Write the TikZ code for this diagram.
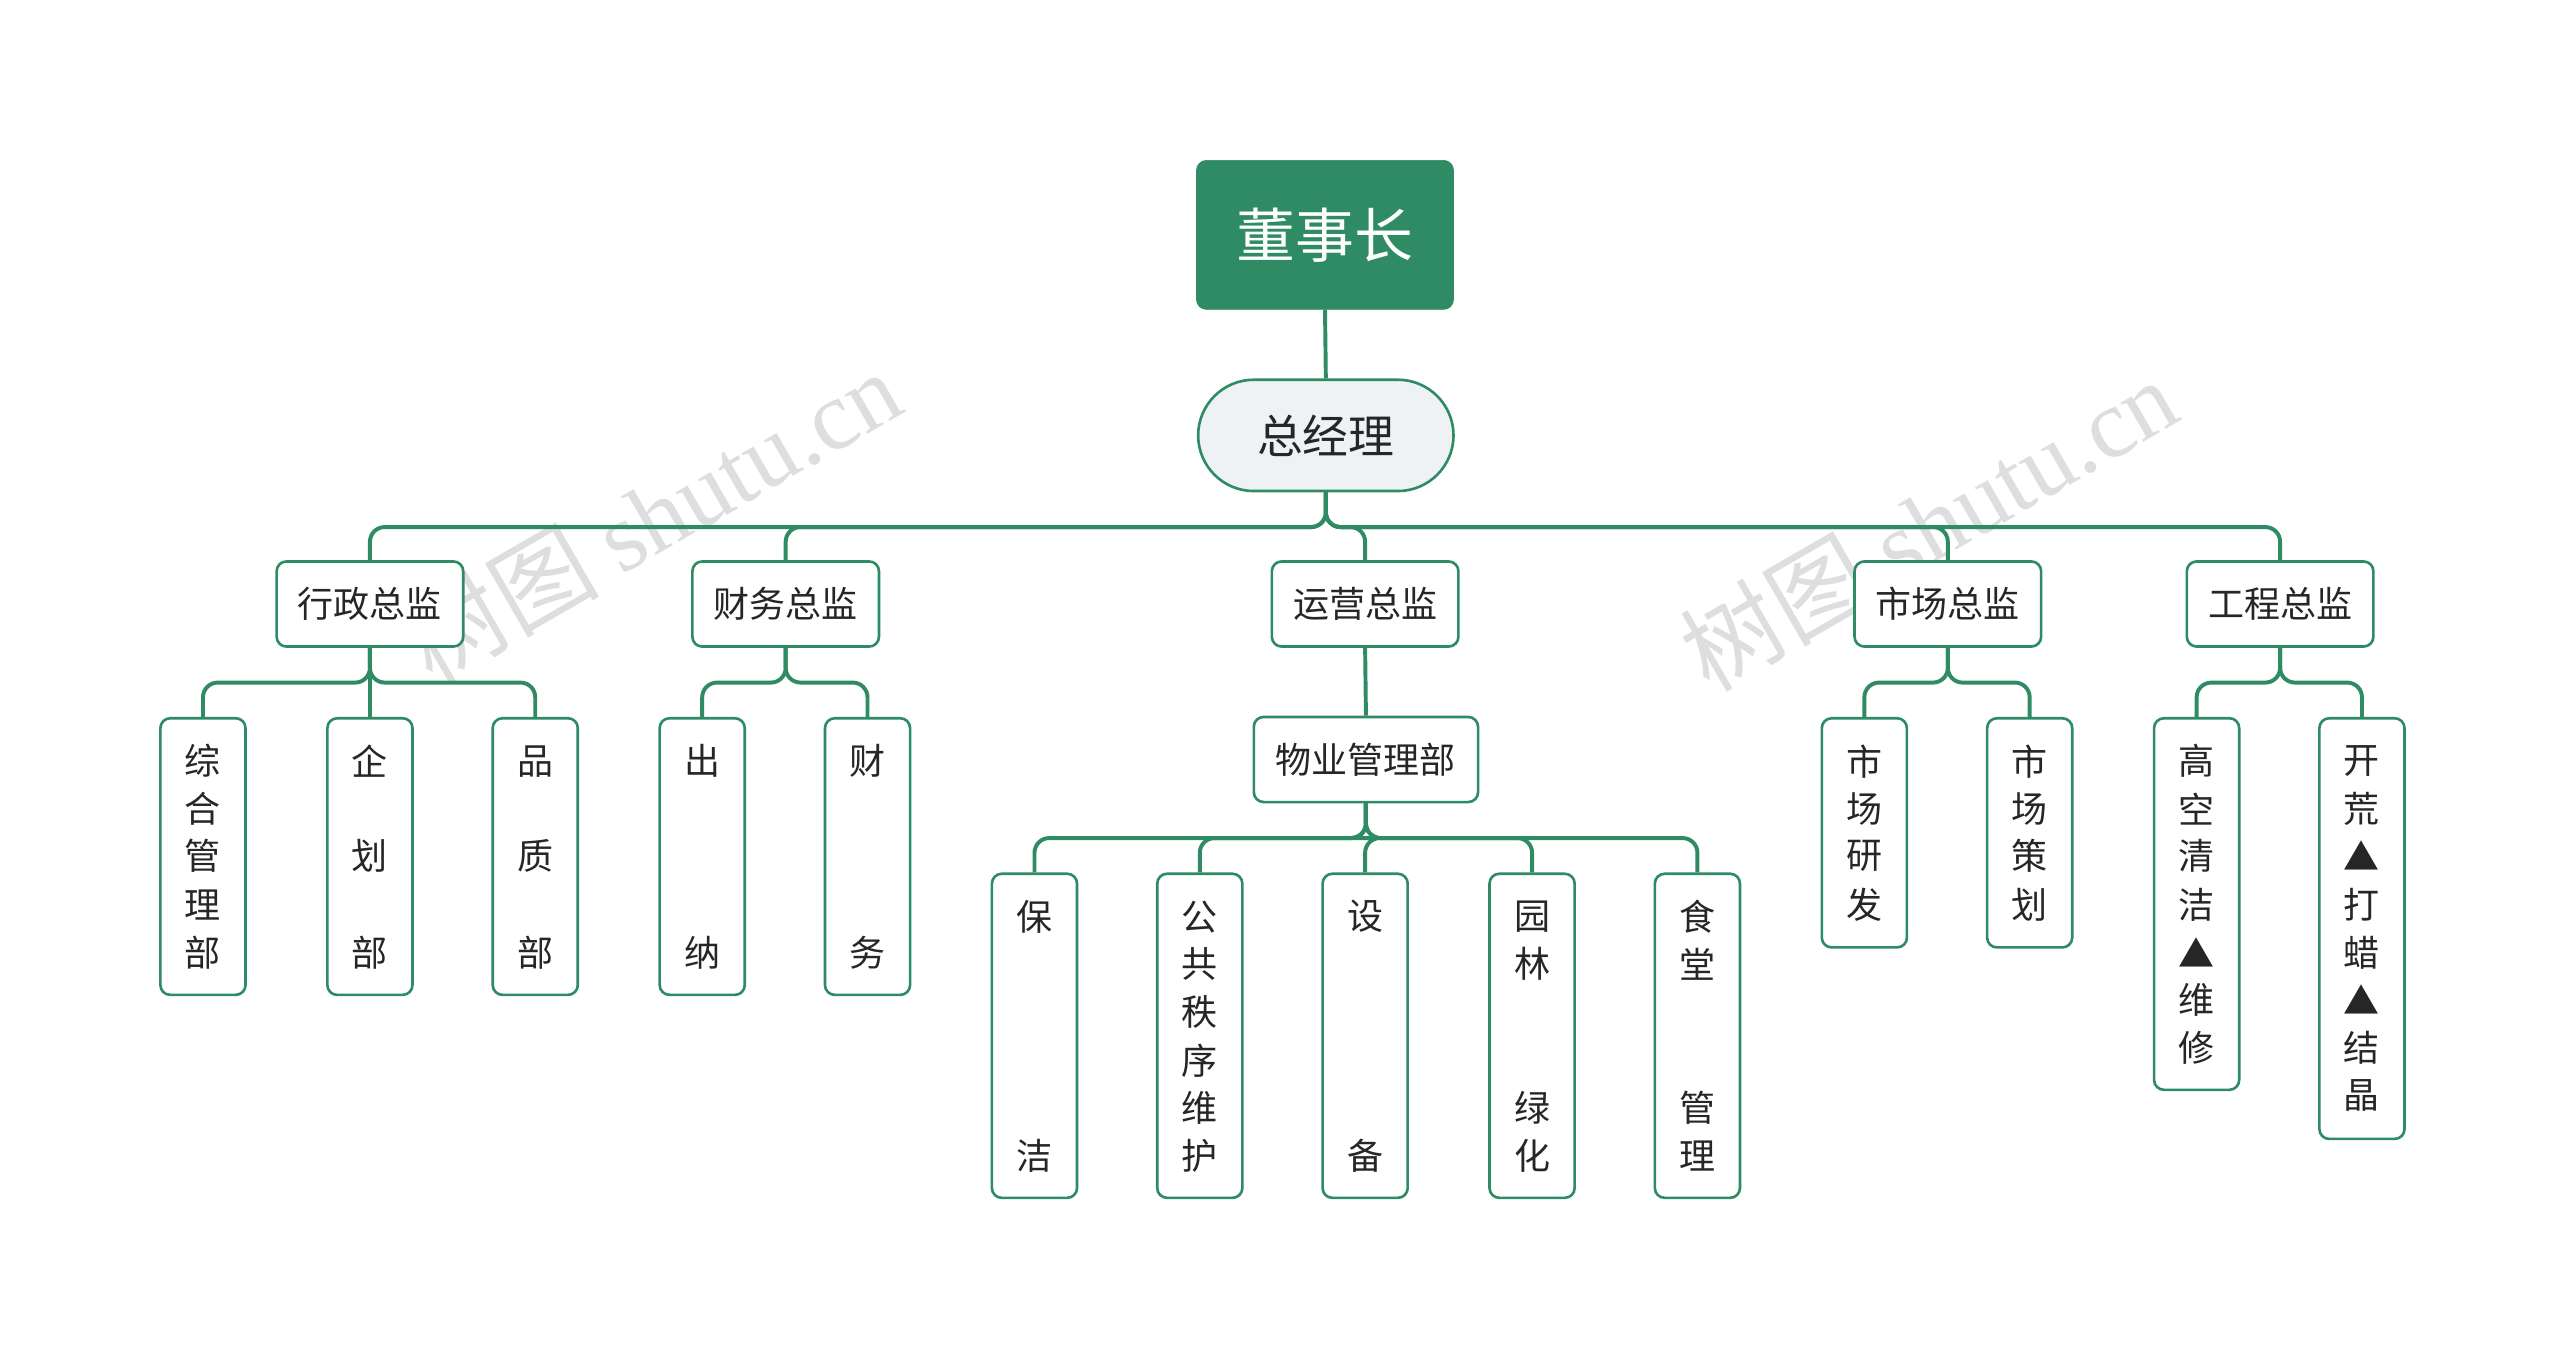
\documentclass[tikz,border=0pt]{standalone}
\usepackage{fontspec}
\setmainfont{Noto Sans CJK SC}
\newfontfamily\wmser{Liberation Serif}
\definecolor{gr}{HTML}{2E8B64}
\definecolor{gmfill}{HTML}{EEF2F5}
\tikzset{
 conn/.style={draw=gr,line width=2.4pt,rounded corners=9pt},
 vb/.style={draw=gr,line width=1.6pt,fill=white,rounded corners=6pt,minimum width=52pt,anchor=north,inner sep=0pt},
 hb/.style={draw=gr,line width=1.6pt,fill=white,rounded corners=6pt,minimum height=52pt,inner sep=0pt,font=\fontsize{22}{24}\selectfont,text=black!85},
 ct/.style={font=\fontsize{22}{24}\selectfont,text=black!85,inner sep=0pt},
 wm/.style={font=\fontsize{60}{64}\selectfont,text=black!13,rotate=30}
}
\newcommand\vbx[5]{\node[vb,minimum height={(#4-#3)*1pt}] (#1) at (#2,#3) {};
 \foreach \yy/\cc in {#5} {\node[ct] at (#2,\yy) {\cc};}}
\begin{document}
\begin{tikzpicture}[x=1pt,y=-1pt]
\useasboundingbox[fill=white] (0,0) rectangle (1564,828);
\begin{scope}
\clip (0,0) rectangle (1564,828);
\node[wm] at (398,315) {树图 {\wmser shutu.cn}};
\node[wm] at (1178,320) {树图 {\wmser shutu.cn}};
\node[wm] at (398,920) {树图 {\wmser shutu.cn}};
\node[wm] at (1178,920) {树图 {\wmser shutu.cn}};
\end{scope}
% top
\node[fill=gr,draw=gr,rounded corners=6pt,minimum width=157pt,minimum height=91pt,text=white,font=\fontsize{36}{40}\selectfont] (ceo) at (809.5,143.5) {董事长};
\node[fill=gmfill,draw=gr,line width=1.6pt,rounded corners=34pt,minimum width=156pt,minimum height=68pt,font=\fontsize{28}{32}\selectfont,text=black!85] (gm) at (810,266) {总经理};
\node[hb,minimum width=114pt] (a) at (226,369) {行政总监};
\node[hb,minimum width=114pt] (b) at (480,369) {财务总监};
\node[hb,minimum width=114pt] (c) at (834,369) {运营总监};
\node[hb,minimum width=114pt] (d) at (1190,369) {市场总监};
\node[hb,minimum width=114pt] (e) at (1393,369) {工程总监};
\node[hb,minimum width=137pt] (c0) at (834.5,464) {物业管理部};
% level 3
\vbx{a1}{124}{438}{607}{465/综,494/合,523/管,553/理,582/部}
\vbx{a2}{226}{438}{607}{465/企,523/划,582/部}
\vbx{a3}{327}{438}{607}{465/品,523/质,582/部}
\vbx{b1}{429}{438}{607}{465/出,582/纳}
\vbx{b2}{530}{438}{607}{465/财,582/务}
\vbx{c1}{632}{533}{731}{560/保,706/洁}
\vbx{c2}{733}{533}{731}{560/公,589/共,618/秩,648/序,677/维,706/护}
\vbx{c3}{834}{533}{731}{560/设,706/备}
\vbx{c4}{936}{533}{731}{560/园,589/林,677/绿,706/化}
\vbx{c5}{1037}{533}{731}{560/食,589/堂,677/管,706/理}
\vbx{d1}{1139}{438}{578}{465/市,494/场,523/研,553/发}
\vbx{d2}{1240}{438}{578}{465/市,494/场,523/策,553/划}
\vbx{e1}{1342}{438}{665}{465/高,494/空,523/清,553/洁,582/▲,611/维,640/修}
\vbx{e2}{1443}{438}{695}{465/开,494/荒,523/▲,553/打,582/蜡,611/▲,640/结,669/晶}
% connectors
\draw[conn] (ceo.south) -- (gm.north);
\foreach \t in {a,b,c,d,e} \draw[conn] (gm.south) -- (gm.south |- 0,322) -| (\t.north);
\foreach \t in {a1,a2,a3} \draw[conn] (a.south) -- (a.south |- 0,417) -| (\t.north);
\foreach \t in {b1,b2} \draw[conn] (b.south) -- (b.south |- 0,417) -| (\t.north);
\draw[conn] (c.south) -- (c0.north);
\foreach \t in {c1,c2,c3,c4,c5} \draw[conn] (c0.south) -- (c0.south |- 0,512) -| (\t.north);
\foreach \t in {d1,d2} \draw[conn] (d.south) -- (d.south |- 0,417) -| (\t.north);
\foreach \t in {e1,e2} \draw[conn] (e.south) -- (e.south |- 0,417) -| (\t.north);
\end{tikzpicture}
\end{document}
